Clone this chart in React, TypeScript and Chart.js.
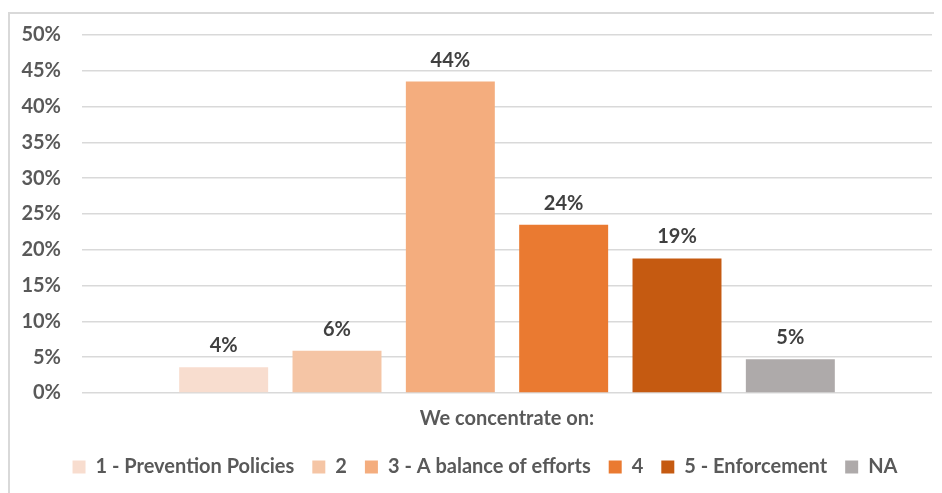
import React, { useEffect, useRef } from "react";
import { Chart, registerables } from "chart.js";

Chart.register(...registerables);

const categories = ["We concentrate on:"];
const seriesNames = ["1 - Prevention Policies", "2", "3 - A balance of efforts", "4", "5 - Enforcement", "NA"];
const seriesValues = [3.6, 5.9, 43.5, 23.5, 18.8, 4.7];
const seriesLabels = ["4%", "6%", "44%", "24%", "19%", "5%"];
const seriesColors = ["#F8DDCF", "#F5C5A5", "#F4AD7E", "#EA7A31", "#C55A11", "#AEAAAA"];
const yTicks = [0, 5, 10, 15, 20, 25, 30, 35, 40, 45, 50];

const FONT = "Lato, 'Open Sans', sans-serif";
const FS = 20;

const valueLabelPlugin = {
  id: "valueLabels",
  afterDatasetsDraw(chart: any) {
    const ctx = chart.ctx;
    ctx.save();
    ctx.font = `bold ${FS}px ${FONT}`;
    ctx.fillStyle = "#404040";
    ctx.textAlign = "center";
    ctx.textBaseline = "alphabetic";
    chart.data.datasets.forEach((ds: any, i: number) => {
      const meta = chart.getDatasetMeta(i);
      meta.data.forEach((bar: any) => {
        ctx.fillText(seriesLabels[i], bar.x, bar.y - 15);
      });
    });
    ctx.restore();
  },
};

const legendShiftPlugin = {
  id: "legendShift",
  afterLayout(chart: any) {
    if (chart.legend) {
      chart.legend.left += 14;
      chart.legend.right += 14;
    }
  },
};

export default function App() {
  const ref = useRef<HTMLCanvasElement | null>(null);
  useEffect(() => {
    if (!ref.current) return;
    const chart = new Chart(ref.current, {
      type: "bar",
      data: {
        labels: categories,
        datasets: seriesNames.map((name, i) => ({
          label: name,
          data: [seriesValues[i]],
          backgroundColor: seriesColors[i],
          borderColor: seriesColors[i],
          borderWidth: 0,
          categoryPercentage: 0.8,
          barPercentage: 0.785,
        })),
      },
      options: {
        animation: false,
        responsive: false,
        maintainAspectRatio: false,
        layout: { padding: { top: 1, right: 10, left: 0, bottom: 0 } },
        plugins: {
          tooltip: { enabled: false },
          legend: {
            position: "bottom",
            labels: {
              boxWidth: 13,
              boxHeight: 13,
              padding: 18,
              color: "#595959",
              font: { family: FONT, size: FS, weight: "bold" },
            },
          },
        },
        scales: {
          x: {
            afterFit: (s: any) => {
              s.height = 46;
            },
            grid: { display: false, drawTicks: false },
            border: { display: false },
            ticks: {
              padding: 14,
              color: "#595959",
              font: { family: FONT, size: FS, weight: "bold" },
            },
          },
          y: {
            min: 0,
            max: 50,
            afterFit: (s: any) => {
              s.width = 72;
            },
            afterBuildTicks: (s: any) => {
              s.ticks = yTicks.map((v) => ({ value: v }));
            },
            grid: { color: "#D9D9D9", lineWidth: 1.5, drawTicks: false },
            border: { display: false },
            ticks: {
              padding: 21,
              color: "#595959",
              font: { family: FONT, size: FS, weight: "bold" },
              callback: (v: any) => `${v}%`,
            },
          },
        },
      },
      plugins: [valueLabelPlugin, legendShiftPlugin],
    });
    return () => chart.destroy();
  }, []);
  return (
    <div
      style={{
        marginTop: 4,
        width: 932,
        borderTop: "2px solid #D9D9D9",
        borderLeft: "2px solid #D9D9D9",
        background: "#fff",
      }}
    >
      <canvas
        ref={ref}
        width={932}
        height={485}
        style={{ display: "block", position: "relative", top: -12 }}
      />
    </div>
  );
}
